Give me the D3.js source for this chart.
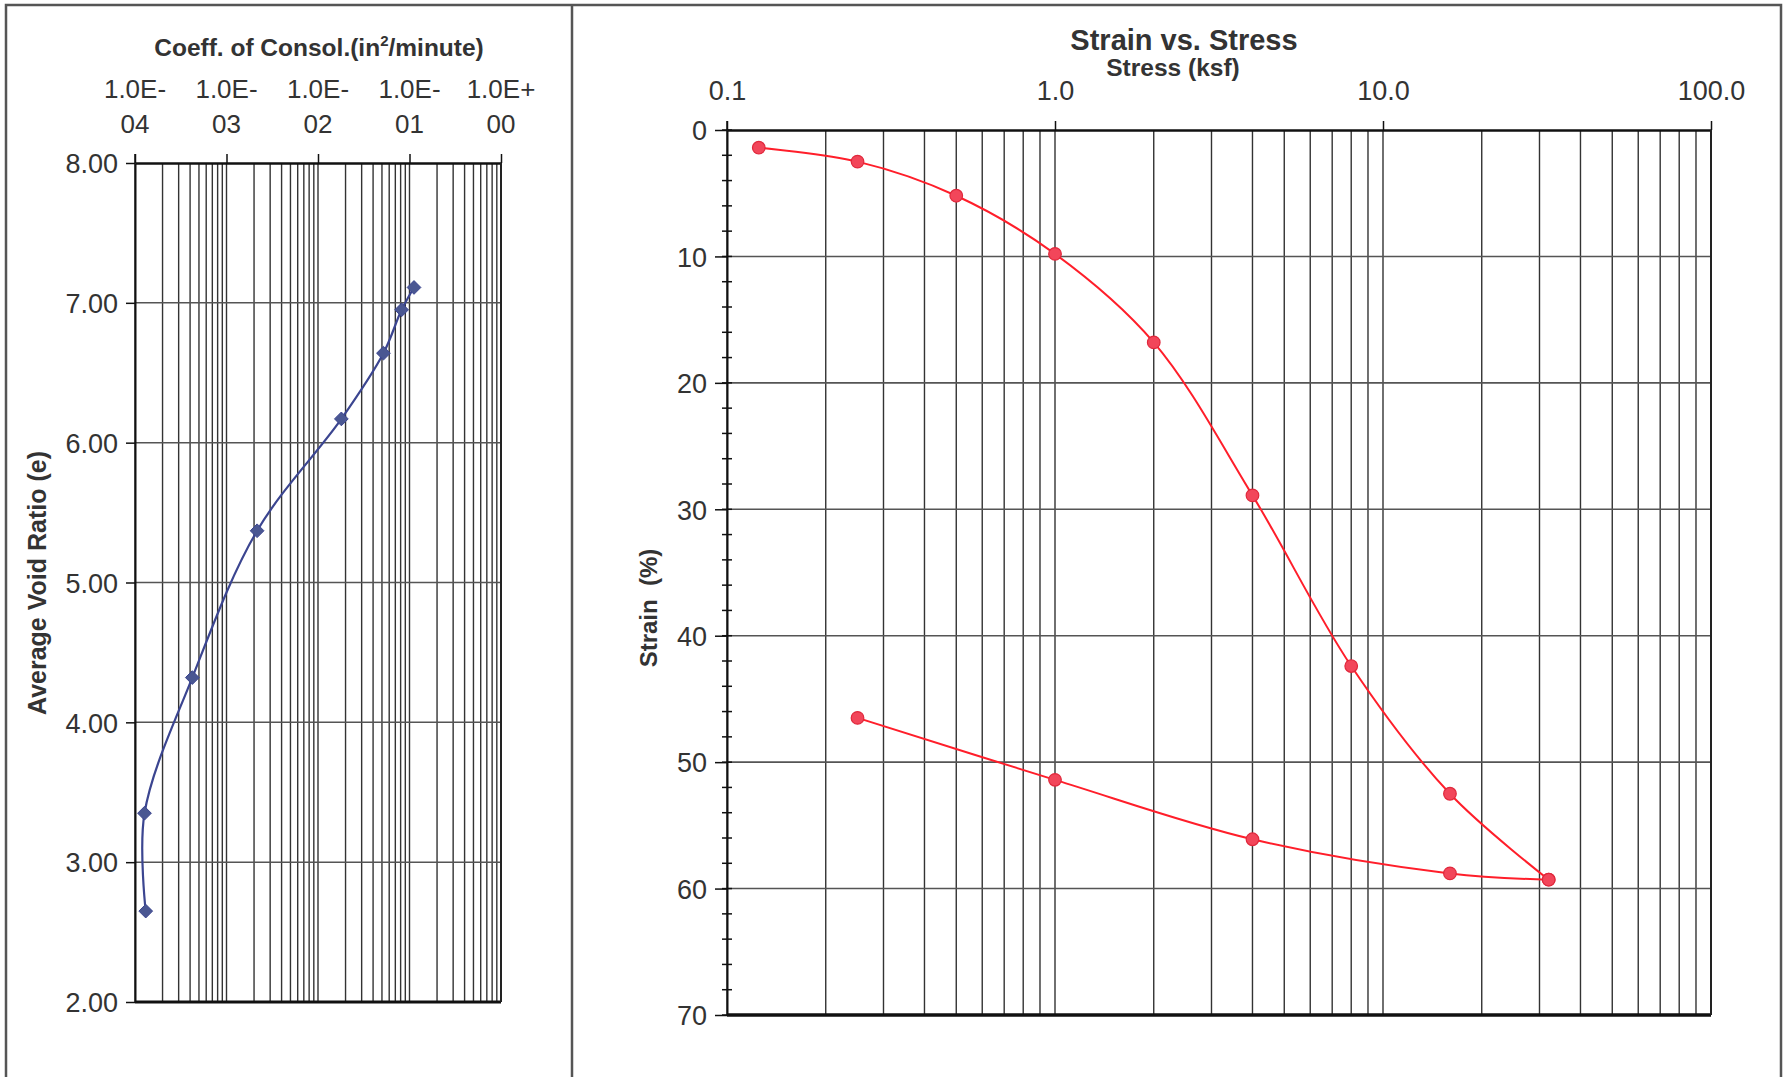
<!DOCTYPE html>
<html>
<head>
<meta charset="utf-8">
<script src="https://cdn.jsdelivr.net/npm/d3@7"></script>
<style>
  body { margin: 0; background: #fff; }
  svg { display: block; font-family: "Liberation Sans", Arial, sans-serif; }
</style>
</head>
<body>
<svg id="chart"></svg>
<script>
// LEFT CHART DATA - coefficient of consolidation vs average void ratio
const cvValues = [1.31e-4, 1.27e-4, 4.23e-4, 2.16e-3, 1.80e-2, 5.19e-2, 8.2e-2, 0.112]
const voidRatios = [2.65, 3.35, 4.32, 5.37, 6.17, 6.64, 6.95, 7.11]
const cvDecades = [1e-4, 1e-3, 1e-2, 1e-1, 1e0]
const cvTickLabels = [["1.0E-", "04"], ["1.0E-", "03"], ["1.0E-", "02"], ["1.0E-", "01"], ["1.0E+", "00"]]
const voidTicks = [2, 3, 4, 5, 6, 7, 8]

// RIGHT CHART DATA - strain vs stress
const loadStress = [0.125, 0.25, 0.5, 1, 2, 4, 8, 16, 32]
const loadStrain = [1.4, 2.5, 5.2, 9.8, 16.8, 28.9, 42.4, 52.5, 59.3]
const unloadStress = [32, 16, 4, 1, 0.25]
const unloadStrain = [59.3, 58.8, 56.1, 51.4, 46.5]
const stressDecades = [0.1, 1, 10, 100]
const stressTickLabels = ["0.1", "1.0", "10.0", "100.0"]
const strainTicks = [0, 10, 20, 30, 40, 50, 60, 70]
const strainMinorTicks = d3.range(0, 71, 2)

const W = 1784, H = 1077
const gridColor = '#333'
const textColor = '#333'

let svg = d3.select('#chart').attr('width', W).attr('height', H)

// PANEL BORDERS
svg.append('rect').attr('x', 0).attr('y', 0).attr('width', W).attr('height', H).attr('fill', '#fff')
svg.append('path')
    .attr('d', 'M6,1090 V5 H1781 V1090 M572,5 V1090')
    .attr('fill', 'none')
    .attr('stroke', '#555')
    .attr('stroke-width', 2.5)

// values for log grids (1..9 per decade)
function logGrid(lo, hi){
    let vals = []
    for (let d = lo; d < hi; d++){
        for (let m = 1; m <= 9; m++){
            vals.push(m * Math.pow(10, d))
        }
    }
    vals.push(Math.pow(10, hi))
    return vals
}

// ================= LEFT CHART =================
let L = {x0: 135, x1: 501, y0: 163, y1: 1002}
let xL = d3.scaleLog().domain([1e-4, 1]).range([L.x0, L.x1])
let yL = d3.scaleLinear().domain([2, 8]).range([L.y1, L.y0])

let left = svg.append('g')

// VERTICAL GRID
left.append('g')
    .selectAll('line')
    .data(logGrid(-4, 0))
    .enter()
    .append('line')
    .attr('x1', d => xL(d)).attr('x2', d => xL(d))
    .attr('y1', L.y0).attr('y2', L.y1)
    .attr('stroke', gridColor)
    .attr('stroke-width', 1.4)

// HORIZONTAL GRID
left.append('g')
    .selectAll('line')
    .data(voidTicks.slice(1, -1))
    .enter()
    .append('line')
    .attr('x1', L.x0).attr('x2', L.x1)
    .attr('y1', d => yL(d)).attr('y2', d => yL(d))
    .attr('stroke', '#555')
    .attr('stroke-width', 1.5)

// TOP AXIS (ticks up)
left.append('g')
    .attr('transform', `translate(0, ${L.y0})`)
    .call(d3.axisTop(xL).tickValues(cvDecades).tickSize(9).tickSizeOuter(0).tickFormat(''))
    .call(g => g.select('.domain').attr('stroke', '#111').attr('stroke-width', 2.5))
    .call(g => g.selectAll('.tick line').attr('stroke', '#111').attr('stroke-width', 1.5))

// TOP AXIS LABELS (two lines each)
let cvLab = left.append('g')
    .selectAll('text')
    .data(cvDecades)
    .enter()
    .append('text')
    .attr('text-anchor', 'middle')
    .attr('fill', textColor)
    .attr('font-size', 26)
cvLab.append('tspan').attr('x', d => xL(d)).attr('y', 98).text((d, i) => cvTickLabels[i][0])
cvLab.append('tspan').attr('x', d => xL(d)).attr('y', 133).text((d, i) => cvTickLabels[i][1])

// BOTTOM AXIS LINE
left.append('line')
    .attr('x1', L.x0).attr('x2', L.x1)
    .attr('y1', L.y1).attr('y2', L.y1)
    .attr('stroke', '#111').attr('stroke-width', 3)
left.append('line')
    .attr('x1', L.x1).attr('x2', L.x1)
    .attr('y1', L.y0).attr('y2', L.y1)
    .attr('stroke', '#222').attr('stroke-width', 2)

// LEFT AXIS
left.append('g')
    .attr('transform', `translate(${L.x0}, 0)`)
    .call(d3.axisLeft(yL).tickValues(voidTicks).tickSize(9).tickSizeOuter(0).tickPadding(8).tickFormat(d3.format('.2f')))
    .attr('font-size', 27)
    .attr('font-family', null)
    .call(g => g.select('.domain').attr('stroke', '#111').attr('stroke-width', 2))
    .call(g => g.selectAll('.tick line').attr('stroke', '#111').attr('stroke-width', 1.5))
    .call(g => g.selectAll('.tick text').attr('fill', textColor).attr('dy', '0.36em'))
// y axis pokes above the top line
left.append('line')
    .attr('x1', L.x0).attr('x2', L.x0)
    .attr('y1', L.y0 - 9).attr('y2', L.y0)
    .attr('stroke', '#111').attr('stroke-width', 1.5)

// TITLES
left.append('text')
    .attr('x', 319).attr('y', 56)
    .attr('text-anchor', 'middle')
    .attr('font-size', 24.5)
    .attr('font-weight', 'bold')
    .attr('fill', textColor)
    .call(t => {
        t.append('tspan').text('Coeff. of Consol.(in')
        t.append('tspan').attr('font-size', 15).attr('dy', -10).text('2')
        t.append('tspan').attr('dy', 10).text('/minute)')
    })

left.append('text')
    .attr('transform', `translate(46, 583) rotate(-90)`)
    .attr('text-anchor', 'middle')
    .attr('font-size', 25)
    .attr('font-weight', 'bold')
    .attr('fill', textColor)
    .text('Average Void Ratio (e)')

// SERIES
let cvPoints = cvValues.map((v, i) => [v, voidRatios[i]])
left.append('path')
    .datum(cvPoints)
    .attr('d', d3.line().x(d => xL(d[0])).y(d => yL(d[1])).curve(d3.curveCatmullRom))
    .attr('fill', 'none')
    .attr('stroke', '#3b4590')
    .attr('stroke-width', 2.2)

left.append('g')
    .selectAll('path')
    .data(cvPoints)
    .enter()
    .append('path')
    .attr('d', d3.symbol(d3.symbolDiamond2, 120))
    .attr('transform', d => `translate(${xL(d[0])}, ${yL(d[1])})`)
    .attr('fill', '#4a5792')
    .attr('stroke', '#3b4590')
    .attr('stroke-width', 1)

// ================= RIGHT CHART =================
let R = {x0: 727, x1: 1711, y0: 130, y1: 1015}
let xR = d3.scaleLog().domain([0.1, 100]).range([R.x0, R.x1])
let yR = d3.scaleLinear().domain([0, 70]).range([R.y0, R.y1])

let right = svg.append('g')

// VERTICAL GRID
right.append('g')
    .selectAll('line')
    .data(logGrid(-1, 2))
    .enter()
    .append('line')
    .attr('x1', d => xR(d)).attr('x2', d => xR(d))
    .attr('y1', R.y0).attr('y2', R.y1)
    .attr('stroke', gridColor)
    .attr('stroke-width', 1.4)

// HORIZONTAL GRID
right.append('g')
    .selectAll('line')
    .data(strainTicks.slice(1, -1))
    .enter()
    .append('line')
    .attr('x1', R.x0).attr('x2', R.x1)
    .attr('y1', d => yR(d)).attr('y2', d => yR(d))
    .attr('stroke', '#555')
    .attr('stroke-width', 1.6)

// TOP AXIS
right.append('g')
    .attr('transform', `translate(0, ${R.y0})`)
    .call(d3.axisTop(xR).tickValues(stressDecades).tickSize(9).tickSizeOuter(0).tickFormat((d, i) => stressTickLabels[i]))
    .attr('font-size', 27)
    .attr('font-family', null)
    .call(g => g.select('.domain').attr('stroke', '#111').attr('stroke-width', 2.5))
    .call(g => g.selectAll('.tick line').attr('stroke', '#111').attr('stroke-width', 1.5))
    .call(g => g.selectAll('.tick text').attr('fill', textColor).attr('y', -30).attr('dy', 0))

// MINOR Y TICKS (crossing the axis)
right.append('g')
    .selectAll('line')
    .data(strainMinorTicks)
    .enter()
    .append('line')
    .attr('x1', R.x0 - 5).attr('x2', R.x0 + 5)
    .attr('y1', d => yR(d)).attr('y2', d => yR(d))
    .attr('stroke', '#111')
    .attr('stroke-width', 1.5)

// LEFT AXIS
right.append('g')
    .attr('transform', `translate(${R.x0}, 0)`)
    .call(d3.axisLeft(yR).tickValues(strainTicks).tickSize(12).tickSizeOuter(0).tickPadding(8))
    .attr('font-size', 27)
    .attr('font-family', null)
    .call(g => g.select('.domain').attr('stroke', '#111').attr('stroke-width', 2))
    .call(g => g.selectAll('.tick line').attr('stroke', '#111').attr('stroke-width', 1.5))
    .call(g => g.selectAll('.tick text').attr('fill', textColor).attr('dy', '0.36em'))
right.append('line')
    .attr('x1', R.x0).attr('x2', R.x0)
    .attr('y1', R.y0 - 9).attr('y2', R.y0)
    .attr('stroke', '#111').attr('stroke-width', 1.5)

// BOTTOM AXIS LINE + RIGHT EDGE
right.append('line')
    .attr('x1', R.x0).attr('x2', R.x1)
    .attr('y1', R.y1).attr('y2', R.y1)
    .attr('stroke', '#111').attr('stroke-width', 3.5)
right.append('line')
    .attr('x1', R.x1).attr('x2', R.x1)
    .attr('y1', R.y0).attr('y2', R.y1)
    .attr('stroke', '#222').attr('stroke-width', 2)

// TITLES
right.append('text')
    .attr('x', 1184).attr('y', 50)
    .attr('text-anchor', 'middle')
    .attr('font-size', 29)
    .attr('font-weight', 'bold')
    .attr('fill', textColor)
    .text('Strain vs. Stress')

right.append('text')
    .attr('x', 1173).attr('y', 76)
    .attr('text-anchor', 'middle')
    .attr('font-size', 24.5)
    .attr('font-weight', 'bold')
    .attr('fill', textColor)
    .text('Stress (ksf)')

right.append('text')
    .attr('transform', `translate(657, 608) rotate(-90)`)
    .attr('text-anchor', 'middle')
    .attr('font-size', 24)
    .attr('font-weight', 'bold')
    .attr('fill', textColor)
    .style('white-space', 'pre')
    .text('Strain  (%)')

// SERIES
let strainLine = d3.line().x(d => xR(d[0])).y(d => yR(d[1])).curve(d3.curveCatmullRom)
let loadPoints = loadStress.map((v, i) => [v, loadStrain[i]])
let unloadPoints = unloadStress.map((v, i) => [v, unloadStrain[i]])

;[loadPoints, unloadPoints].forEach(function(pts){
    right.append('path')
        .datum(pts)
        .attr('d', strainLine)
        .attr('fill', 'none')
        .attr('stroke', '#ff1e2a')
        .attr('stroke-width', 2)
})

right.append('g')
    .selectAll('circle')
    .data(loadPoints.concat(unloadPoints))
    .enter()
    .append('circle')
    .attr('cx', d => xR(d[0]))
    .attr('cy', d => yR(d[1]))
    .attr('r', 6.3)
    .attr('fill', '#f2465a')
    .attr('stroke', '#e0283c')
    .attr('stroke-width', 1.2)
</script>
</body>
</html>
